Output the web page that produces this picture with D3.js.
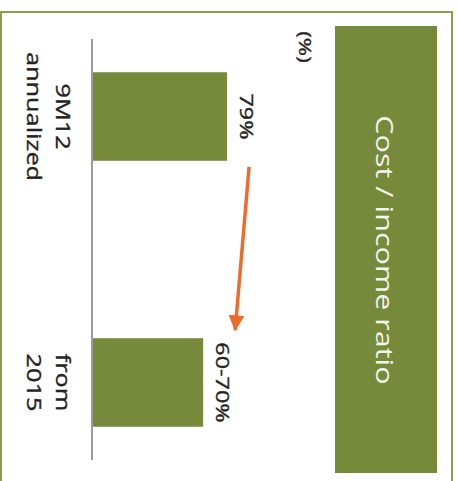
<!DOCTYPE html>
<html>
<head>
<meta charset="utf-8">
<script src="https://cdn.jsdelivr.net/npm/d3@7"></script>
<style>
  html, body { margin: 0; padding: 0; background: #fff; }
  svg { display: block; font-family: "Open Sans", "DejaVu Sans", sans-serif; }
</style>
</head>
<body>
<svg id="chart" width="459" height="481"></svg>
<script>
// Cost / income ratio: current level vs. target
const categories = ["9M12 annualized", "from 2015"];
const categoryLines = [["9M12", "annualized"], ["from", "2015"]];
const values = [79, 65];
const valueLabels = ["79%", "60-70%"];
const title = "Cost / income ratio";
const unitLabel = "(%)";

const green = "#778a3b";
const frameGreen = "#86a04e";
const orange = "#ee6b2c";
const textColor = "#222222";
const stretch = 1.3; // glyphs are drawn wider along the reading direction

const svg = d3.select("#chart");

// outer frame
svg.append("rect")
  .attr("x", 1).attr("y", 12)
  .attr("width", 451).attr("height", 500)
  .attr("fill", "none")
  .attr("stroke", frameGreen)
  .attr("stroke-width", 2);

// title banner
svg.append("rect")
  .attr("x", 335).attr("y", 26)
  .attr("width", 102).attr("height", 447)
  .attr("fill", green);

function rotText(x, y, size) {
  return svg.append("text")
    .attr("transform", `translate(${x},${y}) rotate(90) scale(${stretch},1)`)
    .attr("text-anchor", "middle")
    .attr("font-size", size);
}

function darkText(sel) {
  return sel.attr("fill", textColor)
    .attr("stroke", textColor)
    .attr("stroke-width", 0.35);
}

rotText(376, 250, 23.5).attr("fill", "#f4f4ee").text(title);
darkText(rotText(299, 47, 17)).text(unitLabel);

// scales: categories run down the page, values grow to the right
const y = d3.scaleBand()
  .domain(categories)
  .range([39, 460])
  .paddingInner(0.667)
  .paddingOuter(0.125);

const x = d3.scaleLinear()
  .domain([0, 100])
  .range([92, 263]);

// bars
svg.selectAll("rect.bar")
  .data(categories)
  .join("rect")
  .attr("class", "bar")
  .attr("x", x(0))
  .attr("y", d => y(d))
  .attr("width", (d, i) => x(values[i]) - x(0))
  .attr("height", y.bandwidth())
  .attr("fill", green);

// baseline
svg.append("line")
  .attr("x1", x(0)).attr("x2", x(0))
  .attr("y1", 39).attr("y2", 460)
  .attr("stroke", "#9b9b9b")
  .attr("stroke-width", 2);

// value labels
categories.forEach((c, i) => {
  darkText(rotText(x(values[i]) + 13, y(c) + y.bandwidth() / 2, 18))
    .text(valueLabels[i]);
});

// category labels (two lines each)
categories.forEach((c, i) => {
  const t = darkText(rotText(56, y(c) + y.bandwidth() / 2, 19.5));
  categoryLines[i].forEach((line, j) => {
    t.append("tspan")
      .attr("x", 0)
      .attr("dy", j === 0 ? 0 : 29)
      .text(line);
  });
});

// arrow from the current level down to the target
svg.append("defs").append("marker")
  .attr("id", "head")
  .attr("markerUnits", "userSpaceOnUse")
  .attr("viewBox", "0 0 16 16")
  .attr("refX", 15).attr("refY", 8)
  .attr("markerWidth", 16).attr("markerHeight", 16)
  .attr("orient", "auto")
  .append("path")
  .attr("d", "M0,0 L16,8 L0,16 Z")
  .attr("fill", orange);

const a0 = [x(values[0]) + 22, y(categories[0]) + y.bandwidth() + 6];
const a1 = [x(values[1]) + 32, y(categories[1]) - 8];
svg.append("line")
  .attr("x1", a0[0]).attr("y1", a0[1])
  .attr("x2", a1[0]).attr("y2", a1[1])
  .attr("stroke", orange)
  .attr("stroke-width", 3.5)
  .attr("marker-end", "url(#head)");
</script>
</body>
</html>
